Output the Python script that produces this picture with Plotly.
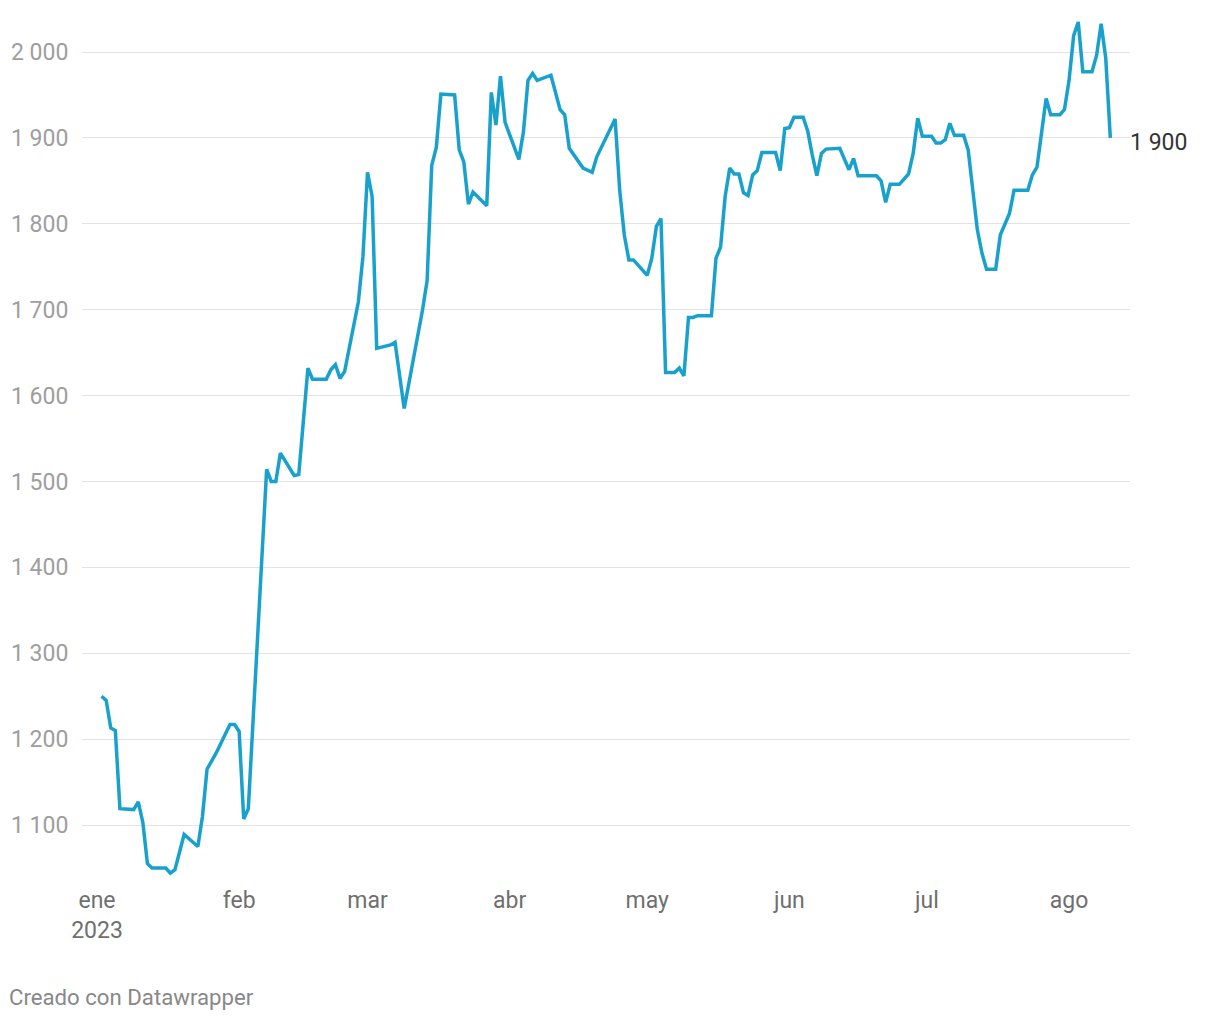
import plotly.graph_objects as go

# ---- data ----
dates = [
    "2023-01-02","2023-01-03","2023-01-04","2023-01-05","2023-01-06","2023-01-09","2023-01-10","2023-01-11",
    "2023-01-12","2023-01-13","2023-01-16","2023-01-17","2023-01-18","2023-01-20","2023-01-23","2023-01-24",
    "2023-01-25","2023-01-27","2023-01-30","2023-01-31",
    "2023-02-01","2023-02-02","2023-02-03","2023-02-07","2023-02-08","2023-02-09","2023-02-10","2023-02-13",
    "2023-02-14","2023-02-16","2023-02-17","2023-02-20","2023-02-21","2023-02-22","2023-02-23","2023-02-24",
    "2023-02-27","2023-02-28",
    "2023-03-01","2023-03-02","2023-03-03","2023-03-06","2023-03-07","2023-03-09","2023-03-13","2023-03-14",
    "2023-03-15","2023-03-16","2023-03-17","2023-03-20","2023-03-21","2023-03-22","2023-03-23","2023-03-24",
    "2023-03-27","2023-03-28","2023-03-29","2023-03-30","2023-03-31",
    "2023-04-03","2023-04-04","2023-04-05","2023-04-06","2023-04-07","2023-04-10","2023-04-12","2023-04-13",
    "2023-04-14","2023-04-17","2023-04-19","2023-04-20","2023-04-24","2023-04-25","2023-04-26","2023-04-27",
    "2023-04-28",
    "2023-05-01","2023-05-02","2023-05-03","2023-05-04","2023-05-05","2023-05-07","2023-05-08","2023-05-09",
    "2023-05-10","2023-05-11","2023-05-12","2023-05-15","2023-05-16","2023-05-17","2023-05-18","2023-05-19",
    "2023-05-20","2023-05-21","2023-05-22","2023-05-23","2023-05-24","2023-05-25","2023-05-26","2023-05-29",
    "2023-05-30","2023-05-31",
    "2023-06-01","2023-06-02","2023-06-04","2023-06-05","2023-06-06","2023-06-07","2023-06-08","2023-06-09",
    "2023-06-12","2023-06-14","2023-06-15","2023-06-16","2023-06-20","2023-06-21","2023-06-22","2023-06-23",
    "2023-06-25","2023-06-27","2023-06-28","2023-06-29","2023-06-30",
    "2023-07-02","2023-07-03","2023-07-04","2023-07-05","2023-07-06","2023-07-07","2023-07-09","2023-07-10",
    "2023-07-12","2023-07-13","2023-07-14","2023-07-16","2023-07-17","2023-07-19","2023-07-20","2023-07-23",
    "2023-07-24","2023-07-25","2023-07-26","2023-07-27","2023-07-28","2023-07-30","2023-07-31",
    "2023-08-01","2023-08-02","2023-08-03","2023-08-04","2023-08-06","2023-08-07","2023-08-08","2023-08-09",
    "2023-08-10",
]

values = [
    1250, 1245, 1213, 1210, 1119, 1118, 1127, 1103, 1055, 1050, 1050, 1044, 1048, 1089, 1075, 1110,
    1165, 1184, 1217, 1217,
    1209, 1107, 1119, 1514, 1500, 1500, 1533, 1507, 1508, 1632, 1619, 1619, 1630, 1636, 1620, 1628,
    1709, 1762,
    1860, 1832, 1655, 1659, 1662, 1585, 1700, 1734, 1868, 1889, 1951, 1950, 1886, 1872, 1823, 1837,
    1821, 1953, 1915, 1972, 1918,
    1875, 1907, 1967, 1975, 1967, 1973, 1933, 1927, 1888, 1865, 1860, 1878, 1922, 1839, 1787, 1758,
    1758,
    1740, 1760, 1797, 1806, 1627, 1627, 1632, 1623, 1691, 1691, 1693, 1693, 1760, 1773, 1832, 1865,
    1858, 1858, 1836, 1833, 1857, 1862, 1883, 1883, 1862, 1911,
    1912, 1924, 1924, 1908, 1880, 1856, 1882, 1887, 1888, 1863, 1876, 1856, 1856, 1850, 1825, 1846,
    1846, 1858, 1882, 1923, 1902,
    1902, 1894, 1894, 1898, 1917, 1903, 1903, 1886, 1793, 1766, 1747, 1747, 1787, 1812, 1839, 1839,
    1857, 1866, 1905, 1946, 1927, 1927, 1933,
    1967, 2019, 2035, 1977, 1977, 1996, 2033, 1993, 1900,
]

y_tickvals = [1100, 1200, 1300, 1400, 1500, 1600, 1700, 1800, 1900, 2000]
y_ticktext = ["1 100", "1 200", "1 300", "1 400", "1 500", "1 600", "1 700", "1 800", "1 900", "2 000"]

x_tickvals = ["2023-01-01", "2023-02-01", "2023-03-01", "2023-04-01",
              "2023-05-01", "2023-06-01", "2023-07-01", "2023-08-01"]
x_ticktext = ["ene<br>2023", "feb", "mar", "abr", "may", "jun", "jul", "ago"]

credit_text = "Creado con Datawrapper"

# ---- figure ----
LINE_COLOR = "#18a1cd"
FONT = "Roboto"

fig = go.Figure()
fig.add_trace(go.Scatter(
    x=dates, y=values, mode="lines",
    line=dict(color=LINE_COLOR, width=3.5, shape="linear"),
    hoverinfo="skip", showlegend=False,
))

last_label = f"{values[-1]:,}".replace(",", " ")
fig.add_annotation(
    x=dates[-1], y=values[-1], text=last_label, showarrow=False,
    xanchor="left", yanchor="middle", xshift=18, yshift=-5,
    font=dict(family=FONT, size=23, color="#333333"),
)

fig.add_annotation(
    xref="paper", yref="paper", x=-0.0715, y=-0.136,
    text=credit_text, showarrow=False, xanchor="left", yanchor="middle",
    font=dict(family=FONT, size=22.2, color="#888888"),
)

fig.update_layout(
    width=1220, height=1020,
    margin=dict(l=82, r=90, t=20, b=140),
    paper_bgcolor="white", plot_bgcolor="white",
    font=dict(family=FONT),
    xaxis=dict(
        type="date", automargin=False,
        range=["2022-12-28 17:30", "2023-08-14 07:00"],
        tickmode="array", tickvals=x_tickvals, ticktext=x_ticktext,
        tickfont=dict(family=FONT, size=23, color="#6f6f6f"),
        showgrid=False, zeroline=False, showline=False,
        ticks="", ticklabelstandoff=4,
    ),
    yaxis=dict(
        range=[1036, 2037.3], automargin=False,
        tickmode="array", tickvals=y_tickvals, ticktext=y_ticktext,
        tickfont=dict(family=FONT, size=23, color="#9e9e9e"),
        showgrid=True, gridcolor="#e3e3e3", gridwidth=1,
        zeroline=False, showline=False,
        ticks="outside", ticklen=8, tickcolor="rgba(0,0,0,0)",
    ),
)

fig.write_html("out.html")
